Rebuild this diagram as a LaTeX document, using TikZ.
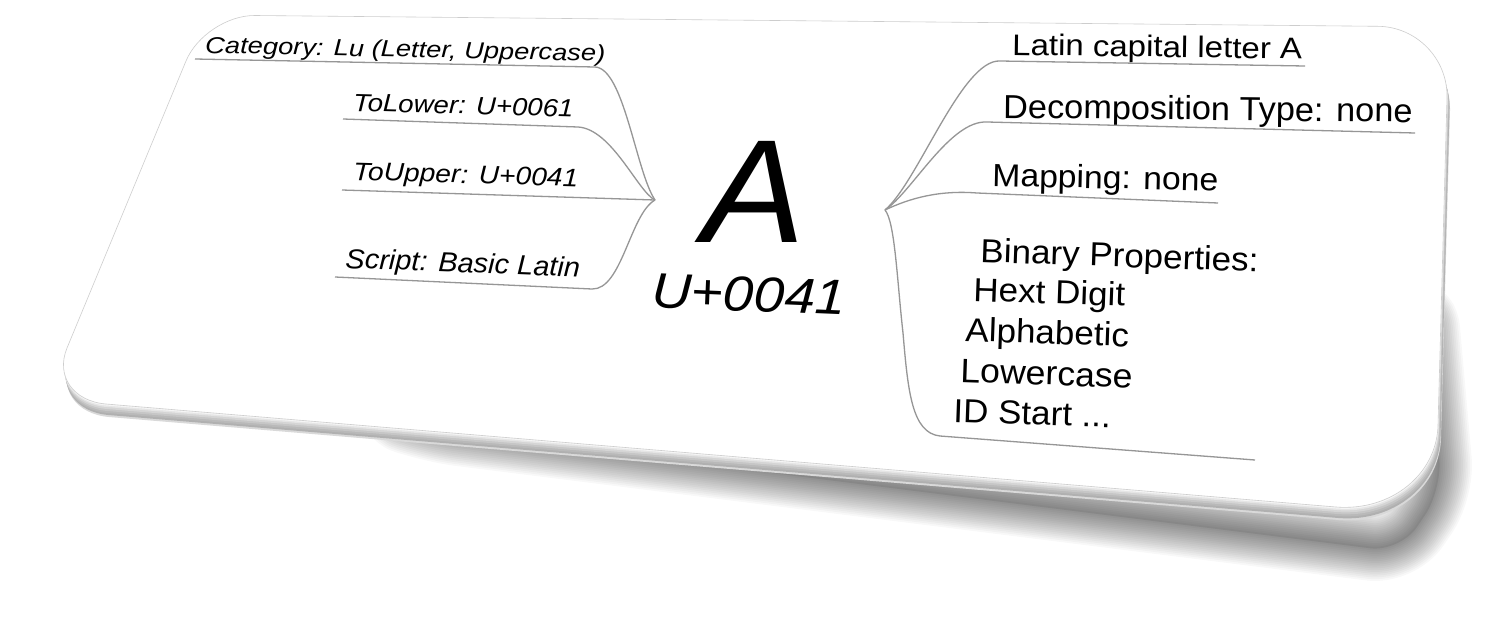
\documentclass[tikz,border=0pt]{standalone}
\usepackage{fontspec}
\setmainfont{Liberation Sans}
\definecolor{linegray}{RGB}{150,150,150}
\definecolor{edgegray}{RGB}{205,205,205}
\tikzset{
  lbl/.style={font=\itshape, anchor=base west, inner sep=0pt, transform shape},
  rlbl/.style={anchor=base west, inner sep=0pt, transform shape},
  conn/.style={draw=linegray, line width=1.3pt, line join=round},
}
\def\cardpath{(255,15.5) -- (1378,26.3) .. controls (1416.5,26.7) and (1447.5,58.5) .. (1447,97)
  -- (1438,425) .. controls (1436.9,474.5) and (1391,511.4) .. (1336,507)
  -- (106,404) .. controls (73,401.2) and (55.5,376) .. (67,348)
  -- (186,61) .. controls (196.5,35.7) and (227.5,15.2) .. (255,15.5) -- cycle}
\def\shadowpath{(380,412) -- (1300,458) -- (1425,300) -- (1442,490) -- (1400,552) -- (430,430) -- cycle}
\begin{document}
\begin{tikzpicture}[x=1pt,y=-1pt]
\useasboundingbox[fill=white] (0,0) rectangle (1493,621);
% shadow
\foreach \i in {18,17,...,1}{
  \draw[black, opacity=0.028, line width=3.6*\i pt, line join=round, rounded corners=30pt] \shadowpath;
}
\fill[black, opacity=0.08, rounded corners=30pt] \shadowpath;
% card thickness
\fill[gray!30, shift={(3,13)}] \cardpath;
\fill[gray!62, shift={(2.5,11)}] \cardpath;
\fill[gray!55, shift={(2,9)}] \cardpath;
\fill[gray!45, shift={(1.5,7)}] \cardpath;
\fill[gray!33, shift={(1,5)}] \cardpath;
\fill[gray!20, shift={(0.6,3)}] \cardpath;
\fill[gray!8, shift={(0.3,1.5)}] \cardpath;
% card
\fill[white] \cardpath;
\draw[edgegray, line width=0.6pt] \cardpath;

% hubs
\coordinate (hubL) at (655,200);
\coordinate (hubR) at (885,210);

% left labels
\node[lbl, rotate=-1.2, yscale=0.85] (cat) at (205,53) {\fontsize{27.3}{30}\selectfont Category: Lu (Letter, Uppercase)};
\node[lbl, rotate=-1.6, yscale=0.9] (tolower) at (353,111) {\fontsize{27.6}{30}\selectfont ToLower: U+0061};
\node[lbl, rotate=-1.7, yscale=0.9] (toupper) at (353,180) {\fontsize{28.2}{30}\selectfont ToUpper: U+0041};
\node[lbl, rotate=-2.2, yscale=0.95] (script) at (345,268) {\fontsize{29}{30}\selectfont Script: Basic Latin};

\coordinate (catS) at (195,59);   \coordinate (catE) at (595,67);
\coordinate (tlS) at (343,119);   \coordinate (tlE) at (578,127);
\coordinate (tuS) at (342,190);
\coordinate (scS) at (335,277);   \coordinate (scE) at (592,289);

\draw[conn] (catS) -- (catE) .. controls (624,68) and (636,172) .. (hubL);
\draw[conn] (tlS) -- (tlE) .. controls (612,129) and (638,192) .. (hubL);
\draw[conn] (tuS) -- (hubL);
\draw[conn] (scS) -- (scE) .. controls (622,290) and (630,214) .. (hubL);

% centre
\node[font=\itshape, anchor=base, inner sep=0pt, xscale=1.05] (glyph) at (754,242) {\fontsize{147}{150}\selectfont A};
\node[lbl, rotate=-2.4, yscale=0.9] (code) at (651,307) {\fontsize{55}{60}\selectfont U+0041};

% right labels
\node[rlbl, rotate=-0.8, yscale=0.9] (latin) at (1012,55) {\fontsize{33}{36}\selectfont Latin capital letter A};
\node[rlbl, rotate=-0.6, yscale=0.97] (decomp) at (1003,118) {\fontsize{34.3}{36}\selectfont Decomposition Type: none};
\node[rlbl, rotate=-1.3, yscale=0.95] (mapping) at (992,186) {\fontsize{33.7}{36}\selectfont Mapping: none};
\node[rlbl, rotate=-2, yscale=0.95] (binhead) at (980,262) {\fontsize{35}{36}\selectfont Binary Properties:};
\node[rlbl, rotate=-2, yscale=0.95] (hex) at (973,301) {\fontsize{35}{36}\selectfont Hext Digit};
\node[rlbl, rotate=-2, yscale=0.95] (alpha) at (965,341) {\fontsize{35}{36}\selectfont Alphabetic};
\node[rlbl, rotate=-2, yscale=0.95] (lower) at (960,382) {\fontsize{35.6}{36}\selectfont Lowercase};
\node[rlbl, rotate=-2, yscale=0.95] (idstart) at (953,422) {\fontsize{35}{36}\selectfont ID Start ...};

\coordinate (laS) at (1000,61);  \coordinate (laE) at (1305,66);
\coordinate (deS) at (987,122);  \coordinate (deE) at (1415,133);
\coordinate (maS) at (977,193);  \coordinate (maE) at (1218,203);
\coordinate (biM) at (903,333);  \coordinate (biS) at (940,436); \coordinate (biE) at (1255,460);

\draw[conn] (laE) -- (laS) .. controls (962,59) and (918,182) .. (hubR);
\draw[conn] (deE) -- (deS) .. controls (950,120) and (912,192) .. (hubR);
\draw[conn] (maE) -- (maS) .. controls (940,190) and (910,198) .. (hubR);
\draw[conn] (hubR) .. controls (895,222) and (897,280) .. (biM)
   .. controls (908,392) and (912,433) .. (biS) -- (biE);
\end{tikzpicture}
\end{document}
